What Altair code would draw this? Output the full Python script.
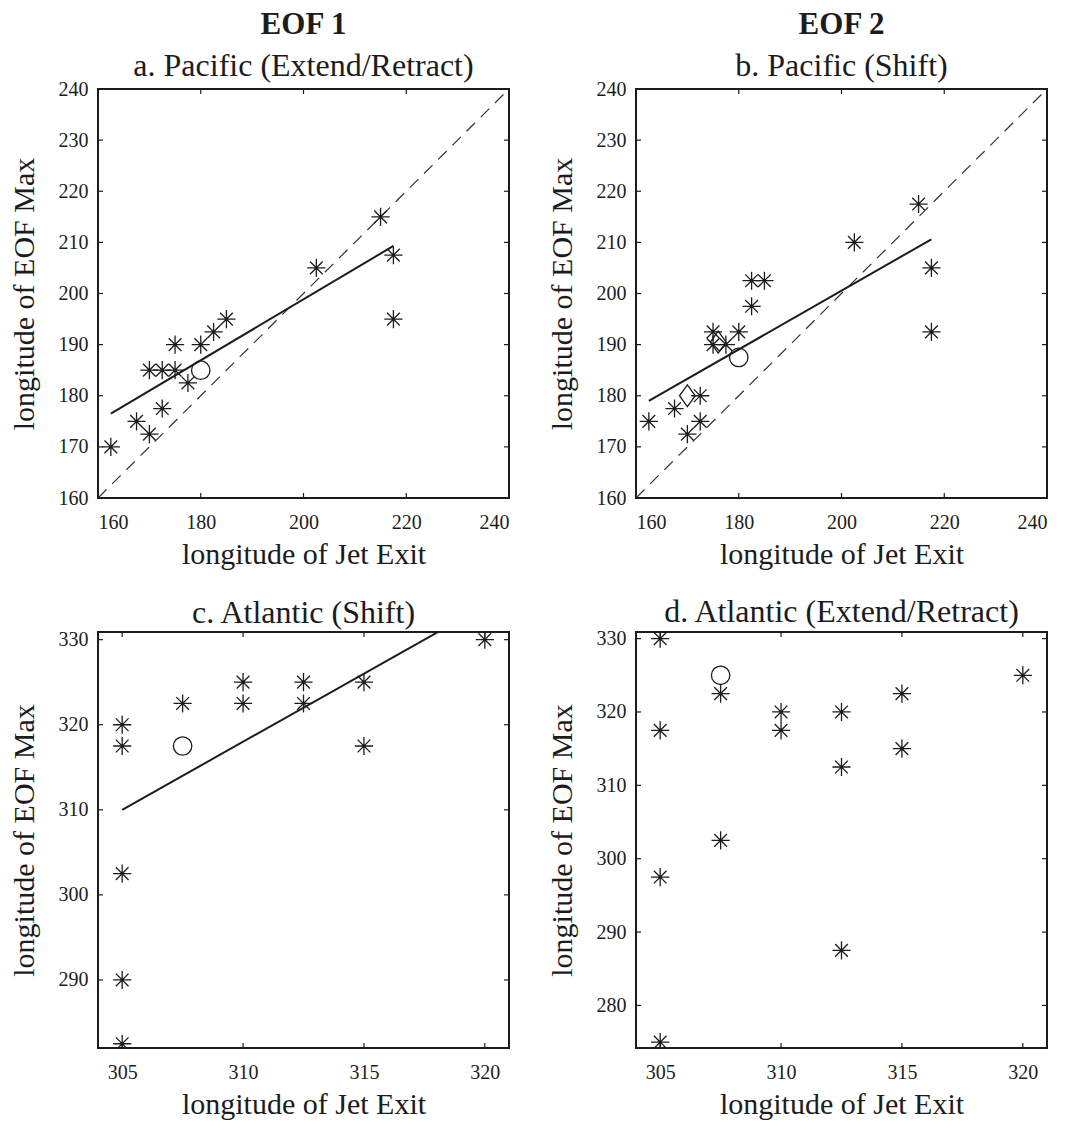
import altair as alt
import pandas as pd

# ---------------- data ----------------
# Panel a: Pacific (Extend/Retract), EOF 1
a_x = [162.5, 167.5, 170, 172.5, 170, 172.5, 175, 175, 177.5, 180, 182.5, 185, 202.5, 215, 217.5, 217.5]
a_y = [170, 175, 172.5, 177.5, 185, 185, 185, 190, 182.5, 190, 192.5, 195, 205, 215, 207.5, 195]
a_circle_x = [180]
a_circle_y = [185]
a_fit_x = [162.5, 217.5]
a_fit_y = [176.5, 209.3]

# Panel b: Pacific (Shift), EOF 2
b_x = [162.5, 167.5, 170, 172.5, 172.5, 175, 175, 177.5, 180, 182.5, 182.5, 185, 202.5, 215, 217.5, 217.5]
b_y = [175, 177.5, 172.5, 180, 175, 192.5, 190, 190, 192.5, 197.5, 202.5, 202.5, 210, 217.5, 205, 192.5]
b_circle_x = [180]
b_circle_y = [187.5]
b_diamond_x = [170, 176]
b_diamond_y = [180, 190.5]
b_fit_x = [162.5, 217.5]
b_fit_y = [179, 210.6]

# Panel c: Atlantic (Shift)
c_x = [305, 305, 305, 305, 305, 307.5, 310, 310, 312.5, 312.5, 315, 315, 320]
c_y = [320, 317.5, 302.5, 290, 282.5, 322.5, 325, 322.5, 325, 322.5, 325, 317.5, 330]
c_circle_x = [307.5]
c_circle_y = [317.5]
c_fit_x = [305, 320]
c_fit_y = [310, 334]

# Panel d: Atlantic (Extend/Retract)
d_x = [305, 305, 305, 305, 307.5, 307.5, 310, 310, 312.5, 312.5, 312.5, 315, 315, 320]
d_y = [330, 317.5, 297.5, 275, 322.5, 302.5, 320, 317.5, 320, 312.5, 287.5, 322.5, 315, 325]
d_circle_x = [307.5]
d_circle_y = [325]

diag_x = [160, 240]
diag_y = [160, 240]

pac_xticks = [160, 180, 200, 220, 240]
pac_yticks = [160, 170, 180, 190, 200, 210, 220, 230, 240]
atl_xticks = [305, 310, 315, 320]
c_yticks = [290, 300, 310, 320, 330]
d_yticks = [280, 290, 300, 310, 320, 330]

FONT = "Liberation Serif"
INK = "#1c1c1c"
ASTER = "M-1,0L1,0M0,-1L0,1M-0.7,-0.7L0.7,0.7M-0.7,0.7L0.7,-0.7"
DIAMOND = "M0,-1L0.72,0L0,1L-0.72,0Z"
TICK = 5


def panel(px, py, cx, cy, xdom, ydom, xticks, yticks, w, h, title,
          fit=None, diag=False, diamonds=None):
    xs = alt.Scale(domain=xdom, nice=False, zero=False)
    ys = alt.Scale(domain=ydom, nice=False, zero=False)
    xax = alt.Axis(values=xticks, title="longitude of Jet Exit", ticks=False,
                   domain=False, grid=False, labelPadding=14, titlePadding=7,
                   format="d")
    yax = alt.Axis(values=yticks, title="longitude of EOF Max", ticks=False,
                   domain=False, grid=False, labelPadding=10, titlePadding=19,
                   format="d")
    X = alt.X("x:Q", scale=xs, axis=xax)
    Y = alt.Y("y:Q", scale=ys, axis=yax)

    layers = []
    if diag:
        layers.append(
            alt.Chart(pd.DataFrame({"x": diag_x, "y": diag_y}))
            .mark_line(strokeDash=[12, 8], strokeWidth=1.2, color="#333333")
            .encode(x=X, y=Y)
        )
    if fit is not None:
        layers.append(
            alt.Chart(pd.DataFrame({"x": fit[0], "y": fit[1]}))
            .mark_line(strokeWidth=2, color=INK, clip=True)
            .encode(x=X, y=Y)
        )
    layers.append(
        alt.Chart(pd.DataFrame({"x": px, "y": py}))
        .mark_point(shape=ASTER, size=330, filled=False, stroke=INK,
                    strokeWidth=1.3, opacity=1, clip=True)
        .encode(x=X, y=Y)
    )
    layers.append(
        alt.Chart(pd.DataFrame({"x": cx, "y": cy}))
        .mark_point(shape="circle", size=340, filled=False, stroke=INK,
                    strokeWidth=1.3, opacity=1)
        .encode(x=X, y=Y)
    )
    if diamonds is not None:
        layers.append(
            alt.Chart(pd.DataFrame({"x": diamonds[0], "y": diamonds[1]}))
            .mark_point(shape=DIAMOND, size=480, filled=False, stroke=INK,
                        strokeWidth=1.3, opacity=1)
            .encode(x=X, y=Y)
        )
    # inward ticks (MATLAB style box ticks)
    xt = pd.DataFrame({"x": xticks})
    yt = pd.DataFrame({"y": yticks})
    layers.append(alt.Chart(xt).mark_rule(color=INK, strokeWidth=1.2)
                  .encode(x=X, y=alt.value(h), y2=alt.value(h - TICK)))
    layers.append(alt.Chart(xt).mark_rule(color=INK, strokeWidth=1.2)
                  .encode(x=X, y=alt.value(0), y2=alt.value(TICK)))
    layers.append(alt.Chart(yt).mark_rule(color=INK, strokeWidth=1.2)
                  .encode(y=Y, x=alt.value(0), x2=alt.value(TICK)))
    layers.append(alt.Chart(yt).mark_rule(color=INK, strokeWidth=1.2)
                  .encode(y=Y, x=alt.value(w), x2=alt.value(w - TICK)))
    return alt.layer(*layers).properties(width=w, height=h, title=title)


def top_title(main, sub):
    return alt.TitleParams(text=main, subtitle=sub, font=FONT, fontSize=31,
                           fontWeight="bold", color=INK, subtitleFont=FONT,
                           subtitleFontSize=32, subtitleFontWeight="normal",
                           subtitleColor=INK, subtitlePadding=10, offset=-4,
                           anchor="middle")


def low_title(text):
    return alt.TitleParams(text=text, font=FONT, fontSize=32,
                           fontWeight="normal", color=INK, offset=0,
                           anchor="middle")


W = 411
pa = panel(a_x, a_y, a_circle_x, a_circle_y, [160, 240], [160, 240], pac_xticks,
           pac_yticks, W, 409, top_title("EOF 1", "a. Pacific (Extend/Retract)"),
           fit=(a_fit_x, a_fit_y), diag=True)
pb = panel(b_x, b_y, b_circle_x, b_circle_y, [160, 240], [160, 240], pac_xticks,
           pac_yticks, W, 409, top_title("EOF 2", "b. Pacific (Shift)"),
           fit=(b_fit_x, b_fit_y), diag=True, diamonds=(b_diamond_x, b_diamond_y))
pc = panel(c_x, c_y, c_circle_x, c_circle_y, [304, 321], [282, 330.9], atl_xticks,
           c_yticks, W, 416, low_title("c. Atlantic (Shift)"),
           fit=(c_fit_x, c_fit_y))
pd_ = panel(d_x, d_y, d_circle_x, d_circle_y, [304, 321], [274.2, 330.9], atl_xticks,
            d_yticks, W, 416, low_title("d. Atlantic (Extend/Retract)"))

chart = (
    alt.concat(pa, pb, pc, pd_, columns=2, bounds="flush",
               spacing={"row": 134, "column": 127})
    .properties(padding={"left": 0, "top": 0, "right": 5, "bottom": 0},
                background="white")
    .configure_view(stroke=INK, strokeWidth=2)
    .configure_axis(labelFont=FONT, labelFontSize=20, labelColor=INK,
                    titleFont=FONT, titleFontSize=30, titleFontWeight="normal",
                    titleColor=INK)
)

chart.save("out.html", embed_options={"renderer": "svg", "actions": False})
